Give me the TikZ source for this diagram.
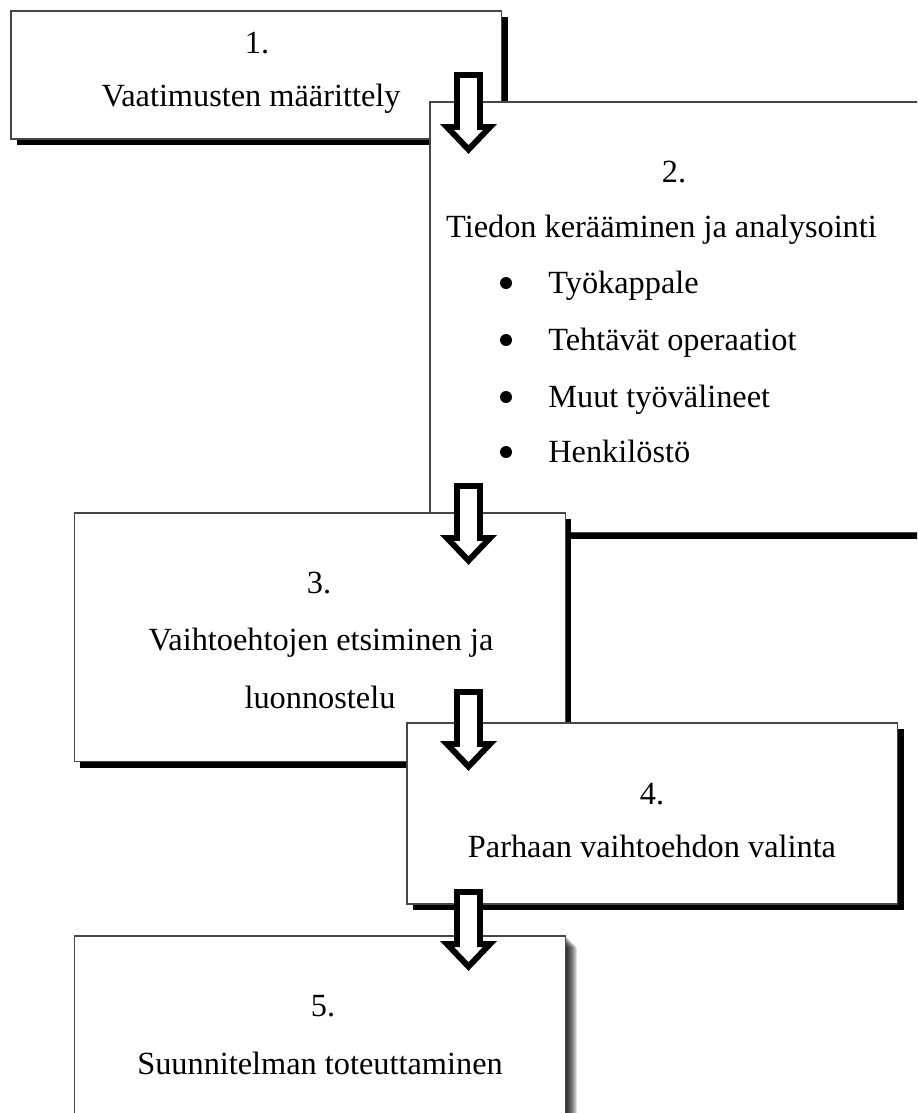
\documentclass[tikz,border=0pt]{standalone}
\usepackage{fontspec}
\setmainfont{Liberation Serif}
\usetikzlibrary{shadows}
\definecolor{boxline}{RGB}{70,70,70}

\begin{document}
\begin{tikzpicture}[
        x=0.02cm, y=-0.02cm,
        stage/.style={rectangle, draw=boxline, line width=0.6pt, fill=white, anchor=north west, inner sep=0pt, outer sep=0pt, minimum width=9.82cm},
        hardshadow/.style={drop shadow={shadow xshift=3.4pt, shadow yshift=-3.4pt, fill=black, opacity=1}},
        txt/.style={anchor=base, inner sep=0pt, font=\fontsize{18.4}{22}\selectfont},
        item/.style={txt, anchor=base west},
        dot/.style={circle, fill=black, inner sep=0pt, minimum size=0.24cm},
        blockarrow/.pic={\draw[line width=3.4pt, fill=white, miter limit=10]
            (-11.5,3) -- (11.5,3) -- (11.5,55) -- (21.5,55) -- (0,77.5) -- (-21.5,55) -- (-11.5,55) -- cycle;}
    ]
        \useasboundingbox (0,0) rectangle (917,1113);
        \fill[white] (0,0) rectangle (917,1113);
        \clip (0,0) rectangle (917,1113);

        \node[stage, hardshadow, minimum height=2.56cm] (req) at (11,11) {};
        \node[txt] (req num) at (257,53) {1.};
        \node[txt] (req title) at (251,106) {Vaatimusten määrittely};

        \node[stage, minimum width=12cm, minimum height=8.62cm] (coll) at (430,102) {};
        \fill[black] ([xshift=3.4pt, yshift=-0.3pt]coll.south west) rectangle ([xshift=3.4pt, yshift=-3.4pt]coll.south east);
        \node[txt] (coll num) at (674,182) {2.};
        \node[txt] (coll title) at (661.5,237) {Tiedon kerääminen ja analysointi};
        \foreach \y/\name/\what in {293/wp/Työkappale, 350/op/Tehtävät operaatiot, 407/tools/Muut työvälineet, 462/staff/Henkilöstö}{
            \node[dot] (\name dot) at (506,\y-10) {};
            \node[item] (\name) at (548,\y) {\what};
        }

        \node[stage, hardshadow, minimum height=4.98cm] (alt) at (74.5,513) {};
        \node[txt] (alt num) at (319,593) {3.};
        \node[txt] (alt title) at (321,650) {Vaihtoehtojen etsiminen ja};
        \node[txt] (alt title2) at (320,708) {luonnostelu};

        \node[stage, hardshadow, minimum height=3.62cm] (sel) at (407,723) {};
        \node[txt] (sel num) at (652,804) {4.};
        \node[txt] (sel title) at (652,857.5) {Parhaan vaihtoehdon valinta};

        \foreach \k in {1,...,11}
            \fill[black, opacity=0.13] (565.5,936+\k) rectangle (565.5+\k,1140);
        \node[stage, minimum height=4cm] (impl) at (74.5,936) {};
        \node[txt] (impl num) at (323,1016) {5.};
        \node[txt] (impl title) at (320,1074.6) {Suunnitelman toteuttaminen};

        \coordinate (a1) at (468.5,72);
        \coordinate (a2) at (468.5,483);
        \coordinate (a3) at (468.5,689);
        \coordinate (a4) at (468.5,889);
        \foreach \a in {a1,a2,a3,a4}
            \pic at (\a) {blockarrow};
    \end{tikzpicture}
\end{document}
